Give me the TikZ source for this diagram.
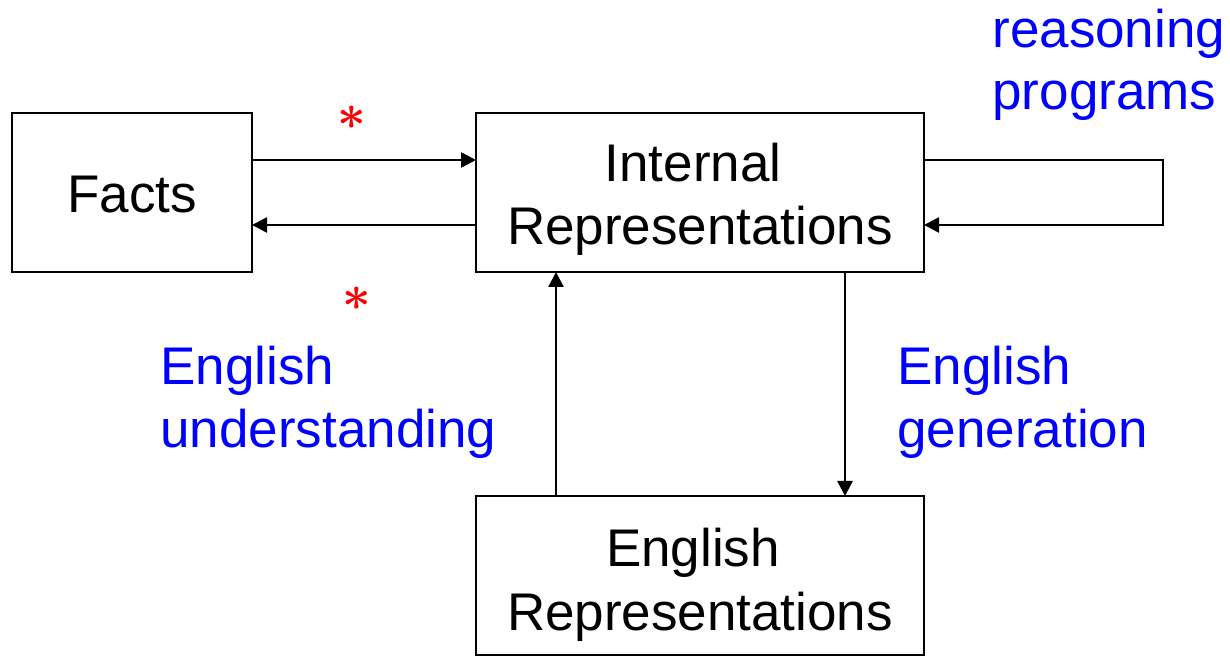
\documentclass[tikz,border=0pt]{standalone}
\usepackage{fontspec}
\setmainfont{Liberation Sans}
\usetikzlibrary{arrows.meta}
\definecolor{lblblue}{RGB}{0,0,255}
\definecolor{starred}{RGB}{255,0,0}
\tikzset{
  boxnode/.style={draw, line width=1.3pt, inner sep=0pt, outer sep=0pt, minimum height=79.5pt},
  boxtext/.style={anchor=base, inner sep=0pt, font=\fontsize{26.5}{31.5}\selectfont},
  lbl/.style={anchor=base west, inner sep=0pt, text=lblblue, font=\fontsize{26.5}{31.5}\selectfont},
  star/.style={inner sep=0pt, text=starred, font=\fontsize{30}{30}\selectfont\boldmath},
  arr/.style={line width=1.3pt, -{Triangle[length=7.5pt,width=7.5pt]}}
}
\begin{document}
\begin{tikzpicture}[x=0.5pt,y=-0.5pt]
\useasboundingbox (0,0) rectangle (1230,656);
% boxes
\node[boxnode, minimum width=120pt] (facts) at (132,192.5) {};
\node[boxnode, minimum width=224pt] (internal) at (700,192.5) {};
\node[boxnode, minimum width=224pt] (engrep) at (700,575.5) {};
\coordinate (loop) at (1163,192.5);
% box texts
\node[boxtext] (tfacts) at (132,213) {Facts};
\node[boxtext] (tint1) at (693,182) {Internal};
\node[boxtext] (tint2) at (700,245) {Representations};
\node[boxtext] (teng1) at (693,567) {English};
\node[boxtext] (teng2) at (700,630) {Representations};
% labels
\node[lbl] (lu1) at (160,385) {English};
\node[lbl] (lu2) at (160,448) {understanding};
\node[lbl] (lg1) at (897,385) {English};
\node[lbl] (lg2) at (897,448) {generation};
\node[lbl] (lr1) at (992,48) {reasoning};
\node[lbl] (lr2) at (992,110) {programs};
% asterisks
\node[star] (s1) at (352,118) {$\ast$};
\node[star] (s2) at (357,299) {$\ast$};
% connectors
\draw[arr] ([yshift=16.25pt]facts.east) -- ([yshift=16.25pt]internal.west);
\draw[arr] ([yshift=-16.25pt]internal.west) -- ([yshift=-16.25pt]facts.east);
\draw[arr] ([yshift=16.25pt]internal.east) -| ([yshift=-16.25pt]loop) -- ([yshift=-16.25pt]internal.east);
\draw[arr] ([xshift=40pt]engrep.north west) -- ([xshift=40pt]internal.south west);
\draw[arr] ([xshift=-39.5pt]internal.south east) -- ([xshift=-39.5pt]engrep.north east);
\end{tikzpicture}
\end{document}
